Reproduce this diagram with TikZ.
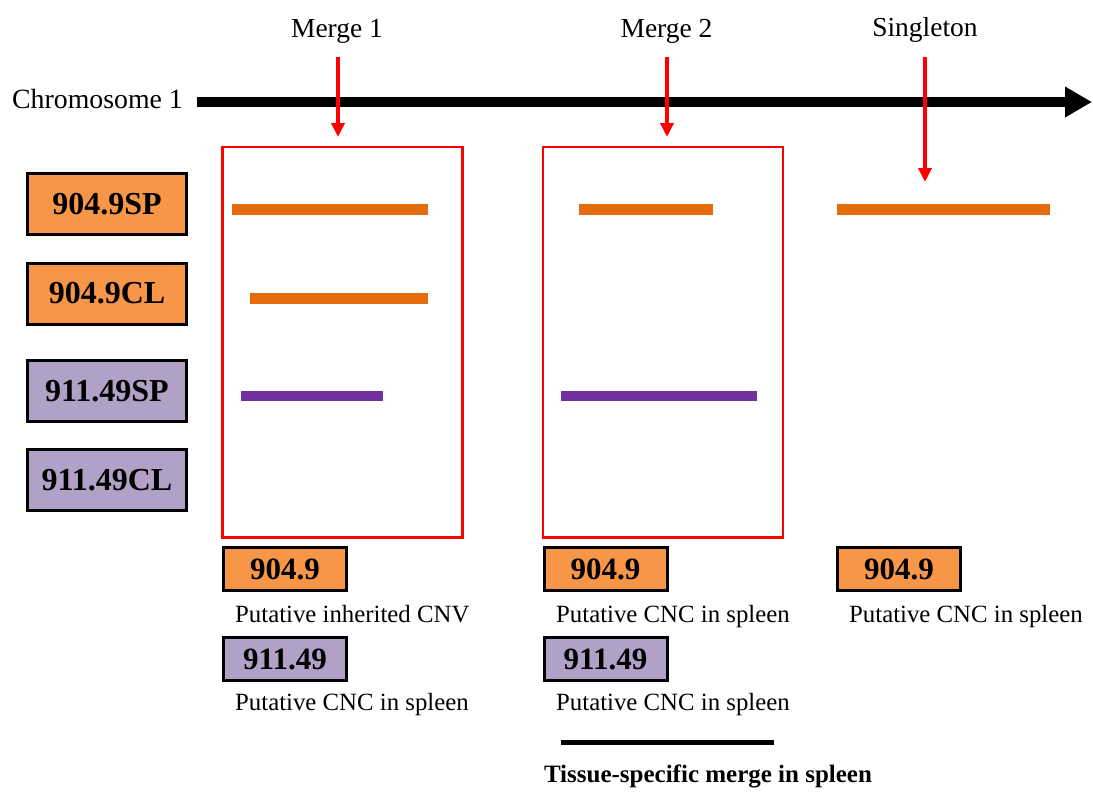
\documentclass[tikz,border=0pt]{standalone}
\usepackage{fontspec}
\setmainfont{Liberation Serif}
\usetikzlibrary{arrows.meta}
\definecolor{orfill}{HTML}{F79646}
\definecolor{orbar}{HTML}{E46C0A}
\definecolor{pufill}{HTML}{B2A1C7}
\definecolor{pubar}{HTML}{7030A0}
\definecolor{redline}{HTML}{FF0000}
\tikzset{
  sample/.style={draw=black, line width=3pt, minimum width=159pt, minimum height=61pt,
    inner sep=0pt, font=\fontsize{32}{36}\selectfont\bfseries},
  tag/.style={draw=black, line width=3pt, minimum width=123pt, minimum height=43pt,
    inner sep=0pt, font=\fontsize{31}{34}\selectfont\bfseries},
  note/.style={anchor=base west, inner sep=0pt, font=\fontsize{24.8}{30}\selectfont},
  head/.style={anchor=base, inner sep=0pt, font=\fontsize{27.5}{32}\selectfont},
  mergebox/.style={draw=redline, line width=2.5pt},
  pointer/.style={draw=redline, line width=3.5pt, -{Triangle[width=13pt,length=14pt]}},
  orseg/.style={fill=orbar},
  puseg/.style={fill=pubar},
}
\begin{document}
\begin{tikzpicture}[x=1pt, y=-1pt]
\useasboundingbox (0,0) rectangle (1093,793);

% chromosome axis
\node[head, anchor=base west, font=\fontsize{27.8}{32}\selectfont] (chr) at (12,108) {Chromosome 1};
\coordinate (axL) at (197,102);
\coordinate (axR) at (1092,102);
\draw[line width=10pt, -{Triangle[width=29pt,length=27pt]}] (axL) -- (axR);

% column headings and pointers
\node[head] (m1) at (337,37) {Merge 1};
\node[head] (m2) at (666.5,37) {Merge 2};
\node[head] (sg) at (925,36) {Singleton};
\coordinate (m1top) at (338,57);  \coordinate (m1tip) at (338,137);
\coordinate (m2top) at (667,57);  \coordinate (m2tip) at (667,137);
\coordinate (sgtop) at (925,57);  \coordinate (sgtip) at (925,182);
\draw[pointer] (m1top) -- (m1tip);
\draw[pointer] (m2top) -- (m2tip);
\draw[pointer] (sgtop) -- (sgtip);

% sample labels
\node[sample, fill=orfill] (s1) at (107,204) {904.9SP};
\node[sample, fill=orfill] (s2) at (107,293.5) {904.9CL};
\node[sample, fill=pufill] (s3) at (107,391) {911.49SP};
\node[sample, fill=pufill] (s4) at (107,480) {911.49CL};

% merged regions
\draw[mergebox] (222.5,147) rectangle (462.5,537.5);
\draw[mergebox] (543,147) rectangle (783,537.5);

% CNV segments
\fill[orseg] (232,204) rectangle (428,214.5);
\fill[orseg] (250,293) rectangle (428,303.5);
\fill[puseg] (241,390.5) rectangle (383,401);
\fill[orseg] (579,204) rectangle (712.5,214.5);
\fill[puseg] (561,390.5) rectangle (757,401);
\fill[orseg] (837,204) rectangle (1050,214.5);

% calls below each region
\node[tag, fill=orfill] (t1a) at (285,569) {904.9};
\node[note] (n1a) at (235,622) {Putative inherited CNV};
\node[tag, fill=pufill] (t1b) at (285,659) {911.49};
\node[note] (n1b) at (235,710) {Putative CNC in spleen};

\node[tag, fill=orfill] (t2a) at (605.5,569) {904.9};
\node[note] (n2a) at (556,622) {Putative CNC in spleen};
\node[tag, fill=pufill] (t2b) at (605.5,659) {911.49};
\node[note] (n2b) at (556,710) {Putative CNC in spleen};

\node[tag, fill=orfill] (t3a) at (899,569) {904.9};
\node[note] (n3a) at (849,622) {Putative CNC in spleen};

% tissue-specific marker
\coordinate (tsL) at (561,742);
\coordinate (tsR) at (774,742);
\draw[line width=5pt] (tsL) -- (tsR);
\node[anchor=base, inner sep=0pt, font=\fontsize{25}{30}\selectfont\bfseries] (ts) at (708,782) {Tissue-specific merge in spleen};
\end{tikzpicture}
\end{document}
